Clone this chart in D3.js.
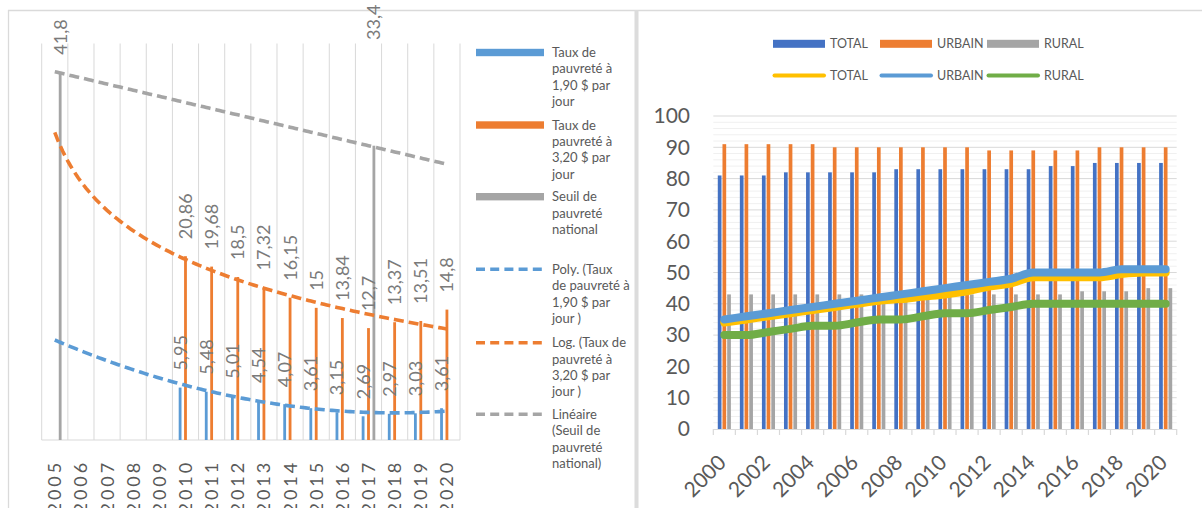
<!DOCTYPE html>
<html>
<head>
<meta charset="utf-8">
<script src="https://cdn.jsdelivr.net/npm/d3@7"></script>
<style>
  html, body { margin: 0; padding: 0; background: #fff; }
  svg { display: block; font-family: Lato, "Open Sans", sans-serif; }
</style>
</head>
<body>
<svg id="chart" width="1202" height="508"></svg>
<script>
// ---------- Left panel: poverty rates ----------
const povertyYears = ["2005","2006","2007","2008","2009","2010","2011","2012","2013","2014","2015","2016","2017","2018","2019","2020"];
const rate190 = [null,null,null,null,null,5.95,5.48,5.01,4.54,4.07,3.61,3.15,2.69,2.97,3.03,3.61];
const rate320 = [null,null,null,null,null,20.86,19.68,18.5,17.32,16.15,15,13.84,12.7,13.37,13.51,14.8];
const nationalLine = [41.8,null,null,null,null,null,null,null,null,null,null,null,33.4,null,null,null];
const povertySeries = ["Taux de pauvreté à 1,90 $ par jour","Taux de pauvreté à 3,20 $ par jour","Seuil de pauvreté national"];

// ---------- Right panel: TOTAL / URBAIN / RURAL ----------
const years = ["2000","2001","2002","2003","2004","2005","2006","2007","2008","2009","2010","2011","2012","2013","2014","2015","2016","2017","2018","2019","2020"];
const totalBars  = [81,81,81,82,82,82,82,82,83,83,83,83,83,83,83,84,84,85,85,85,85];
const urbainBars = [91,91,91,91,91,90,90,90,90,90,90,90,89,89,89,89,89,90,90,90,90];
const ruralBars  = [43,43,43,43,43,43,43,43,43,43,43,43,43,43,43,43,44,44,44,45,45];
const totalLine  = [34,35,36,37,38,39,40,41,41.5,42.3,43,44,45.5,46.5,48.5,48.5,48.5,48.5,49.5,50,50];
const urbainLine = [35,36,37,38,39,40,41,42,43,44,45,46,47,48,50,50,50,50,51,51,51];
const ruralLine  = [30,30,31,32,33,33,34,35,35,36,37,37,38,39,40,40,40,40,40,40,40];
const yTicksRight = [0,10,20,30,40,50,60,70,80,90,100];
const xLabelYears = ["2000","2002","2004","2006","2008","2010","2012","2014","2016","2018","2020"];

const C = {
  blue: "#5b9bd5", orange: "#ed7d31", grey: "#a5a5a5",
  darkBlue: "#4472c4", yellow: "#ffc000", green: "#70ad47",
  grid: "#d9d9d9", minor: "#f0f0f0", text: "#595959", label: "#7a7a7a"
};

const svg = d3.select("#chart");

// Panel frames
svg.append("line").attr("x1", 8).attr("x2", 1202).attr("y1", 10.5).attr("y2", 10.5)
  .attr("stroke", "#dadada").attr("stroke-width", 1.3);
svg.append("line").attr("x1", 8.5).attr("x2", 8.5).attr("y1", 10).attr("y2", 508)
  .attr("stroke", "#dadada").attr("stroke-width", 1.3);
svg.append("rect").attr("x", 634.5).attr("y", 10).attr("width", 4).attr("height", 498)
  .attr("fill", "#dcdcdc");

// ===== Left panel =====
const L = { left: 41.7, right: 460, top: 43.5, bottom: 440 };
const xL = d3.scaleBand().domain(povertyYears).range([L.left, L.right]);
const yL = d3.scaleLinear().domain([0, 45]).range([L.bottom, L.top]);
const subL = d3.scaleBand().domain(povertySeries).range([-6.8, 6.8]).paddingInner(0.48);
const left = svg.append("g");

// vertical category gridlines
const bounds = povertyYears.map(d => xL(d)).concat([L.right]);
left.selectAll("line.vg").data(bounds).join("line")
  .attr("x1", d => d).attr("x2", d => d).attr("y1", L.top).attr("y2", L.bottom)
  .attr("stroke", C.grid).attr("stroke-width", 1);
left.append("line").attr("x1", L.left).attr("x2", L.right).attr("y1", L.bottom).attr("y2", L.bottom)
  .attr("stroke", C.grid).attr("stroke-width", 1);

const leftSeries = [
  { name: povertySeries[0], values: rate190, color: C.blue },
  { name: povertySeries[1], values: rate320, color: C.orange },
  { name: povertySeries[2], values: nationalLine, color: C.grey }
];
const cx = (yr) => xL(yr) + xL.bandwidth() / 2;

leftSeries.forEach(s => {
  const pts = povertyYears.map((yr, i) => ({ yr, v: s.values[i] })).filter(p => p.v != null);
  left.selectAll(null).data(pts).join("rect")
    .attr("x", p => cx(p.yr) + subL(s.name))
    .attr("width", subL.bandwidth())
    .attr("y", p => yL(p.v))
    .attr("height", p => L.bottom - yL(p.v))
    .attr("fill", s.color);
});

// Trendlines fitted on category index (1..n)
function points(values) {
  return values.map((v, i) => [i + 1, v]).filter(p => p[1] != null);
}
function fitLinear(pts) {
  const mx = d3.mean(pts, p => p[0]), my = d3.mean(pts, p => p[1]);
  const b = d3.sum(pts, p => (p[0] - mx) * (p[1] - my)) / d3.sum(pts, p => (p[0] - mx) ** 2);
  const a = my - b * mx;
  return x => a + b * x;
}
function fitLog(pts) {
  const f = fitLinear(pts.map(p => [Math.log(p[0]), p[1]]));
  return x => f(Math.log(x));
}
function fitPoly2(pts) {
  const S = k => d3.sum(pts, p => p[0] ** k);
  const T = k => d3.sum(pts, p => p[1] * p[0] ** k);
  const A = [[S(0), S(1), S(2), T(0)], [S(1), S(2), S(3), T(1)], [S(2), S(3), S(4), T(2)]];
  for (let i = 0; i < 3; i++) {
    for (let j = i + 1; j < 3; j++) {
      const r = A[j][i] / A[i][i];
      for (let k = i; k < 4; k++) A[j][k] -= r * A[i][k];
    }
  }
  const c = [0, 0, 0];
  for (let i = 2; i >= 0; i--) {
    let s = A[i][3];
    for (let k = i + 1; k < 3; k++) s -= A[i][k] * c[k];
    c[i] = s / A[i][i];
  }
  return x => c[0] + c[1] * x + c[2] * x * x;
}
const nCat = povertyYears.length;
const idxX = i => L.left + (i - 0.5) * xL.step();
const trendDefs = [
  { f: fitLinear(points(nationalLine)), color: C.grey },
  { f: fitLog(points(rate320)), color: C.orange },
  { f: fitPoly2(points(rate190)), color: C.blue }
];
const samples = d3.range(1, nCat + 0.001, 0.1);
trendDefs.forEach(t => {
  left.append("path")
    .attr("d", d3.line().x(x => idxX(x)).y(x => yL(t.f(x)))(samples))
    .attr("fill", "none").attr("stroke", t.color).attr("stroke-width", 3.6)
    .attr("stroke-dasharray", "10,5");
});

// value labels (rotated); the 2017 national-line label sits near the top edge
const fmt = v => String(v).replace(".", ",");
leftSeries.forEach(s => {
  const pts = povertyYears.map((yr, i) => ({ yr, v: s.values[i] })).filter(p => p.v != null);
  left.selectAll(null).data(pts).join("text")
    .attr("transform", p => {
      const x = cx(p.yr) + subL(s.name) + subL.bandwidth() / 2;
      let y = yL(p.v) - 17;
      if (s.values === nationalLine && p.yr === "2017") y = 40;
      return `translate(${x},${y}) rotate(-90)`;
    })
    .attr("dy", "0.36em")
    .attr("fill", C.label).attr("font-size", 18)
    .text(p => fmt(p.v));
});

// category labels
left.selectAll("text.xl").data(povertyYears).join("text")
  .attr("transform", d => `translate(${cx(d)},460) rotate(-90)`)
  .attr("text-anchor", "end").attr("dy", "0.36em")
  .attr("fill", C.text).attr("font-size", 18).attr("letter-spacing", 2.9)
  .text(d => d);

// legend
const legendL = [
  { lines: ["Taux de", "pauvreté à", "1,90 $ par", "jour"], color: C.blue, dashed: false, y: 52.5 },
  { lines: ["Taux de", "pauvreté à", "3,20 $ par", "jour"], color: C.orange, dashed: false, y: 125 },
  { lines: ["Seuil de", "pauvreté", "national"], color: C.grey, dashed: false, y: 196.7 },
  { lines: ["Poly. (Taux", "de pauvreté à", "1,90 $ par", "jour )"], color: C.blue, dashed: true, y: 269.3 },
  { lines: ["Log. (Taux de", "pauvreté à", "3,20 $ par", "jour )"], color: C.orange, dashed: true, y: 342.7 },
  { lines: ["Linéaire", "(Seuil de", "pauvreté", "national)"], color: C.grey, dashed: true, y: 414.3 }
];
const lg = left.append("g");
legendL.forEach(e => {
  if (e.dashed) {
    lg.append("line").attr("x1", 476).attr("x2", 545).attr("y1", e.y).attr("y2", e.y)
      .attr("stroke", e.color).attr("stroke-width", 3.6).attr("stroke-dasharray", "9,5.2");
  } else {
    lg.append("rect").attr("x", 476).attr("y", e.y - 3.7).attr("width", 68).attr("height", 7.4)
      .attr("fill", e.color);
  }
  lg.append("text").attr("x", 552).attr("y", e.y).attr("fill", C.text).attr("font-size", 13)
    .selectAll("tspan").data(e.lines).join("tspan")
    .attr("x", 552).attr("y", (d, i) => e.y + i * 16.4).attr("dy", "0.35em").text(d => d);
});

// ===== Right panel =====
const R = { left: 713.3, right: 1176.7, top: 116, bottom: 429 };
const xR = d3.scaleBand().domain(years).range([R.left, R.right]);
const yR = d3.scaleLinear().domain([0, 100]).range([R.bottom, R.top]);
const right = svg.append("g");

// minor + major gridlines
const minor = d3.range(0, 100, 2).filter(v => v % 10 !== 0);
right.selectAll("line.mn").data(minor).join("line")
  .attr("x1", R.left).attr("x2", R.right).attr("y1", d => yR(d)).attr("y2", d => yR(d))
  .attr("stroke", C.minor).attr("stroke-width", 1);
right.selectAll("line.mj").data(yTicksRight.slice(1)).join("line")
  .attr("x1", R.left).attr("x2", R.right).attr("y1", d => yR(d)).attr("y2", d => yR(d))
  .attr("stroke", C.grid).attr("stroke-width", 1);

// y axis labels
right.selectAll("text.yl").data(yTicksRight).join("text")
  .attr("x", 690).attr("y", d => yR(d)).attr("dy", "0.35em").attr("text-anchor", "end")
  .attr("fill", C.text).attr("font-size", 21).text(d => d);

// bars
const barSeries = [
  { name: "TOTAL", values: totalBars, color: C.darkBlue },
  { name: "URBAIN", values: urbainBars, color: C.orange },
  { name: "RURAL", values: ruralBars, color: C.grey }
];
const subR = d3.scaleBand().domain(barSeries.map(s => s.name)).range([-6.55, 6.55]).paddingInner(0.213);
const cxR = yr => xR(yr) + xR.bandwidth() / 2;
barSeries.forEach(s => {
  right.selectAll(null).data(years.map((yr, i) => ({ yr, v: s.values[i] }))).join("rect")
    .attr("x", p => cxR(p.yr) + subR(s.name)).attr("width", subR.bandwidth())
    .attr("y", p => yR(p.v)).attr("height", p => R.bottom - yR(p.v))
    .attr("fill", s.color);
});

// x axis line and ticks
right.append("line").attr("x1", R.left).attr("x2", R.right).attr("y1", R.bottom + 0.5).attr("y2", R.bottom + 0.5)
  .attr("stroke", C.grid).attr("stroke-width", 1.2);
const tickPos = years.map(d => xR(d)).concat([R.right]);
right.selectAll("line.tk").data(tickPos).join("line")
  .attr("x1", d => d).attr("x2", d => d).attr("y1", R.bottom).attr("y2", R.bottom + 6)
  .attr("stroke", C.grid).attr("stroke-width", 1.2);

// lines
const lineSeries = [
  { values: totalLine, color: C.yellow },
  { values: urbainLine, color: C.blue },
  { values: ruralLine, color: C.green }
];
const lineGen = d3.line().x((d, i) => cxR(years[i])).y(d => yR(d)).curve(d3.curveMonotoneX);
lineSeries.forEach(s => {
  right.append("path").attr("d", lineGen(s.values)).attr("fill", "none")
    .attr("stroke", s.color).attr("stroke-width", 8).attr("stroke-linecap", "round")
    .attr("stroke-linejoin", "round");
});

// x labels
right.selectAll("text.xr").data(xLabelYears).join("text")
  .attr("transform", d => `translate(${cxR(d) + 3},464) rotate(-45)`)
  .attr("text-anchor", "end").attr("fill", C.text).attr("font-size", 21).text(d => d);

// legend
const legendR = [
  { label: "TOTAL", color: C.darkBlue, type: "bar", x: 773, y: 43.8 },
  { label: "URBAIN", color: C.orange, type: "bar", x: 880, y: 43.8 },
  { label: "RURAL", color: C.grey, type: "bar", x: 987, y: 43.8 },
  { label: "TOTAL", color: C.yellow, type: "line", x: 773, y: 75.5 },
  { label: "URBAIN", color: C.blue, type: "line", x: 880, y: 75.5 },
  { label: "RURAL", color: C.green, type: "line", x: 987, y: 75.5 }
];
legendR.forEach(e => {
  if (e.type === "bar") {
    right.append("rect").attr("x", e.x).attr("y", e.y - 4).attr("width", 52).attr("height", 8).attr("fill", e.color);
  } else {
    right.append("line").attr("x1", e.x + 1.5).attr("x2", e.x + 51).attr("y1", e.y).attr("y2", e.y)
      .attr("stroke", e.color).attr("stroke-width", 4).attr("stroke-linecap", "round");
  }
  right.append("text").attr("x", e.x + 57).attr("y", e.y).attr("dy", "0.36em")
    .attr("fill", C.text).attr("font-size", 12.5).text(e.label);
});
</script>
</body>
</html>
